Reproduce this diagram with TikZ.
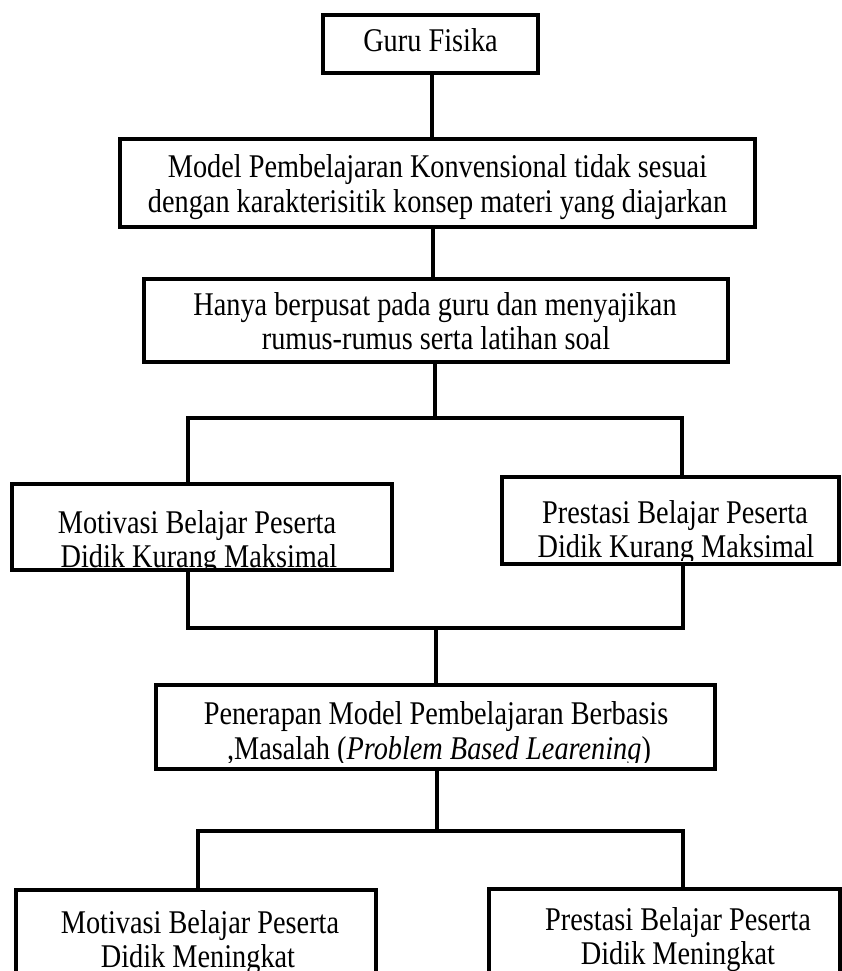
\documentclass[tikz,border=0pt]{standalone}
\usepackage{fontspec}
\setmainfont{Liberation Serif}
\newcommand{\tstr}[1]{\scalebox{1}[1.17]{#1}}
\begin{document}
\begin{tikzpicture}[x=1pt,y=-1pt,
  box/.style={draw, line width=3.5pt, inner sep=0pt},
  conn/.style={line width=3.5pt, line join=miter},
  txt/.style={font=\fontsize{28.3}{35}\selectfont, inner sep=0pt, anchor=base}]
\useasboundingbox (0,0) rectangle (842,971);
\clip (0,0) rectangle (842,971);

% boxes
\node[box, minimum width=215pt, minimum height=58pt] (guru) at (430.5,44) {};
\node[box, minimum width=635pt, minimum height=88pt] (b2) at (437.5,183) {};
\node[box, minimum width=584pt, minimum height=83pt] (b3) at (436,320.5) {};
\node[box, minimum width=380pt, minimum height=86pt] (l1) at (202,527) {};
\node[box, minimum width=337pt, minimum height=87pt] (r1) at (670.5,520.5) {};
\node[box, minimum width=559pt, minimum height=84pt] (p) at (435.5,727) {};
\node[box, minimum width=360pt, minimum height=95pt] (l2) at (196,937.5) {};
\node[box, minimum width=351pt, minimum height=95pt] (r2) at (664.5,936.5) {};

% texts
\node[txt] (tguru) at (430.5,52) {\tstr{Guru Fisika}};
\node[txt] (tb2a) at (437.5,177) {\tstr{Model Pembelajaran Konvensional tidak sesuai}};
\node[txt] (tb2b) at (437.5,212) {\tstr{dengan karakterisitik konsep materi yang diajarkan}};
\node[txt] (tb3a) at (435,315) {\tstr{Hanya berpusat pada guru dan menyajikan}};
\node[txt] (tb3b) at (436,349) {\tstr{rumus-rumus serta latihan soal}};
\node[txt] (tl1a) at (197,533) {\tstr{Motivasi Belajar Peserta}};
\begin{scope}
\clip (20,540) rectangle (390,569);
\node[txt] (tl1b) at (199,567) {\tstr{Didik Kurang Maksimal}};
\end{scope}
\node[txt] (tr1a) at (675,523) {\tstr{Prestasi Belajar Peserta}};
\begin{scope}
\clip (505,530) rectangle (835,560);
\node[txt] (tr1b) at (676,557) {\tstr{Didik Kurang Maksimal}};
\end{scope}
\node[txt] (tpa) at (436,724) {\tstr{Penerapan Model Pembelajaran Berbasis}};
\begin{scope}
\clip (160,730) rectangle (710,762);
\node[txt] (tpb) at (439,759) {\tstr{,Masalah (\textit{Problem Based Learening})}};
\end{scope}
\node[txt] (tl2a) at (200,933) {\tstr{Motivasi Belajar Peserta}};
\node[txt] (tl2b) at (198,967) {\tstr{Didik Meningkat}};
\node[txt] (tr2a) at (678,930) {\tstr{Prestasi Belajar Peserta}};
\node[txt] (tr2b) at (678,964) {\tstr{Didik Meningkat}};

% connectors
\coordinate (c1) at (432,0);
\draw[conn] (guru.south -| c1) -- (b2.north -| c1);
\coordinate (c2) at (433,0);
\draw[conn] (b2.south -| c2) -- (b3.north -| c2);

\coordinate (s1) at (435,418);
\coordinate (s1l) at (188,418);
\coordinate (s1r) at (682,418);
\draw[conn] (b3.south -| s1) -- (s1);
\draw[conn] (l1.north -| s1l) -- (s1l) -- (s1r) -- (r1.north -| s1r);

\coordinate (m1) at (436,628);
\coordinate (m1l) at (188,628);
\coordinate (m1r) at (683,628);
\draw[conn] (l1.south -| m1l) -- (m1l) -- (m1r) -- (r1.south -| m1r);
\draw[conn] (m1) -- (p.north -| m1);

\coordinate (s2) at (437,831);
\coordinate (s2l) at (198,831);
\coordinate (s2r) at (683,831);
\draw[conn] (p.south -| s2) -- (s2);
\draw[conn] (l2.north -| s2l) -- (s2l) -- (s2r) -- (r2.north -| s2r);
\end{tikzpicture}
\end{document}
